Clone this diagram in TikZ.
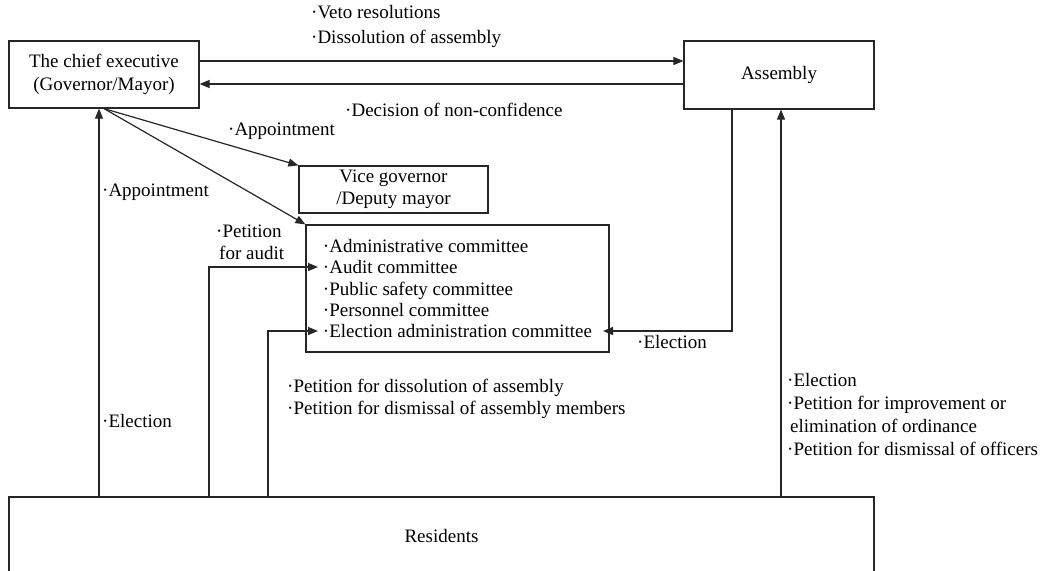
\documentclass[tikz,border=0pt]{standalone}
\usepackage{fontspec}
\setmainfont{Liberation Serif}
\usetikzlibrary{arrows.meta}

\tikzset{
  box/.style={draw, black!85, text=black, line width=1.2pt, inner sep=0pt, align=center,
    font=\fontsize{19}{22.5}\selectfont},
  lbl/.style={inner sep=0pt, anchor=west, align=left, font=\fontsize{19}{22.5}\selectfont},
  arr/.style={black!85, line width=1.2pt, -{Triangle[length=10pt, width=8pt]}}
}

\begin{document}
\begin{tikzpicture}[x=1pt, y=-1pt]
      \useasboundingbox (0,0) rectangle (1054,570);

      \node[box, minimum width=190pt, minimum height=67pt] (chief) at (104,74.5) {The chief executive\\(Governor/Mayor)};
      \node[box, minimum width=190pt, minimum height=68pt] (assembly) at (779,75) {Assembly};
      \node[box, minimum width=189pt, minimum height=47pt] (vice) at (393.5,189.5) {Vice governor\\/Deputy mayor};
      \node[box, minimum width=303pt, minimum height=127pt, align=left, font=\fontsize{19}{21.2}\selectfont] (cmte) at (457.5,288.5)
        {·Administrative committee\\·Audit committee\\·Public safety committee\\·Personnel committee\\·Election administration committee};
      \node[box, minimum width=865pt, minimum height=77pt] (res) at (441.5,535.5) {Residents};

      \coordinate (auditin) at (318,267);
      \coordinate (elecin) at (318,331);
      \coordinate (cmteright) at (603,331);

      \node[lbl, font=\fontsize{19}{25}\selectfont] (veto) at (311,26.5) {·Veto resolutions\\·Dissolution of assembly};
      \node[lbl] (nonconf) at (345,110) {·Decision of non-confidence};
      \node[lbl] (appt1) at (228,131) {·Appointment};
      \node[lbl] (appt2) at (102,192) {·Appointment};
      \node[lbl, font=\fontsize{19}{22}\selectfont] (petaudit) at (216,242) {·Petition\\\hspace{3pt}for audit};
      \node[lbl] (elec1) at (102,421) {·Election};
      \node[lbl, font=\fontsize{19}{22}\selectfont] (petasm) at (287,399) {·Petition for dissolution of assembly\\·Petition for dismissal of assembly members};
      \node[lbl] (elec2) at (637,342) {·Election};
      \node[lbl, font=\fontsize{19}{23}\selectfont] (petres) at (787,414.5)
        {·Election\\·Petition for improvement or\\\hspace{3pt}elimination of ordinance\\·Petition for dismissal of officers};

      \draw[arr] (chief.east |- 0,61) -- (assembly.west |- 0,61);
      \draw[arr] (assembly.west |- 0,84) -- (chief.east |- 0,84);
      \draw[arr] (chief.south) -- (vice.north west);
      \draw[arr] (chief.south) -- (cmte.north west);
      \draw[arr] (res.north -| 99,0) -- (chief.south -| 99,0);
      \draw[arr] (res.north -| 209,0) |- (auditin);
      \draw[arr] (res.north -| 268,0) |- (elecin);
      \draw[arr] (assembly.south -| 732,0) |- (cmteright);
      \draw[arr] (res.north -| 781,0) -- (assembly.south -| 781,0);
    \end{tikzpicture}
\end{document}
